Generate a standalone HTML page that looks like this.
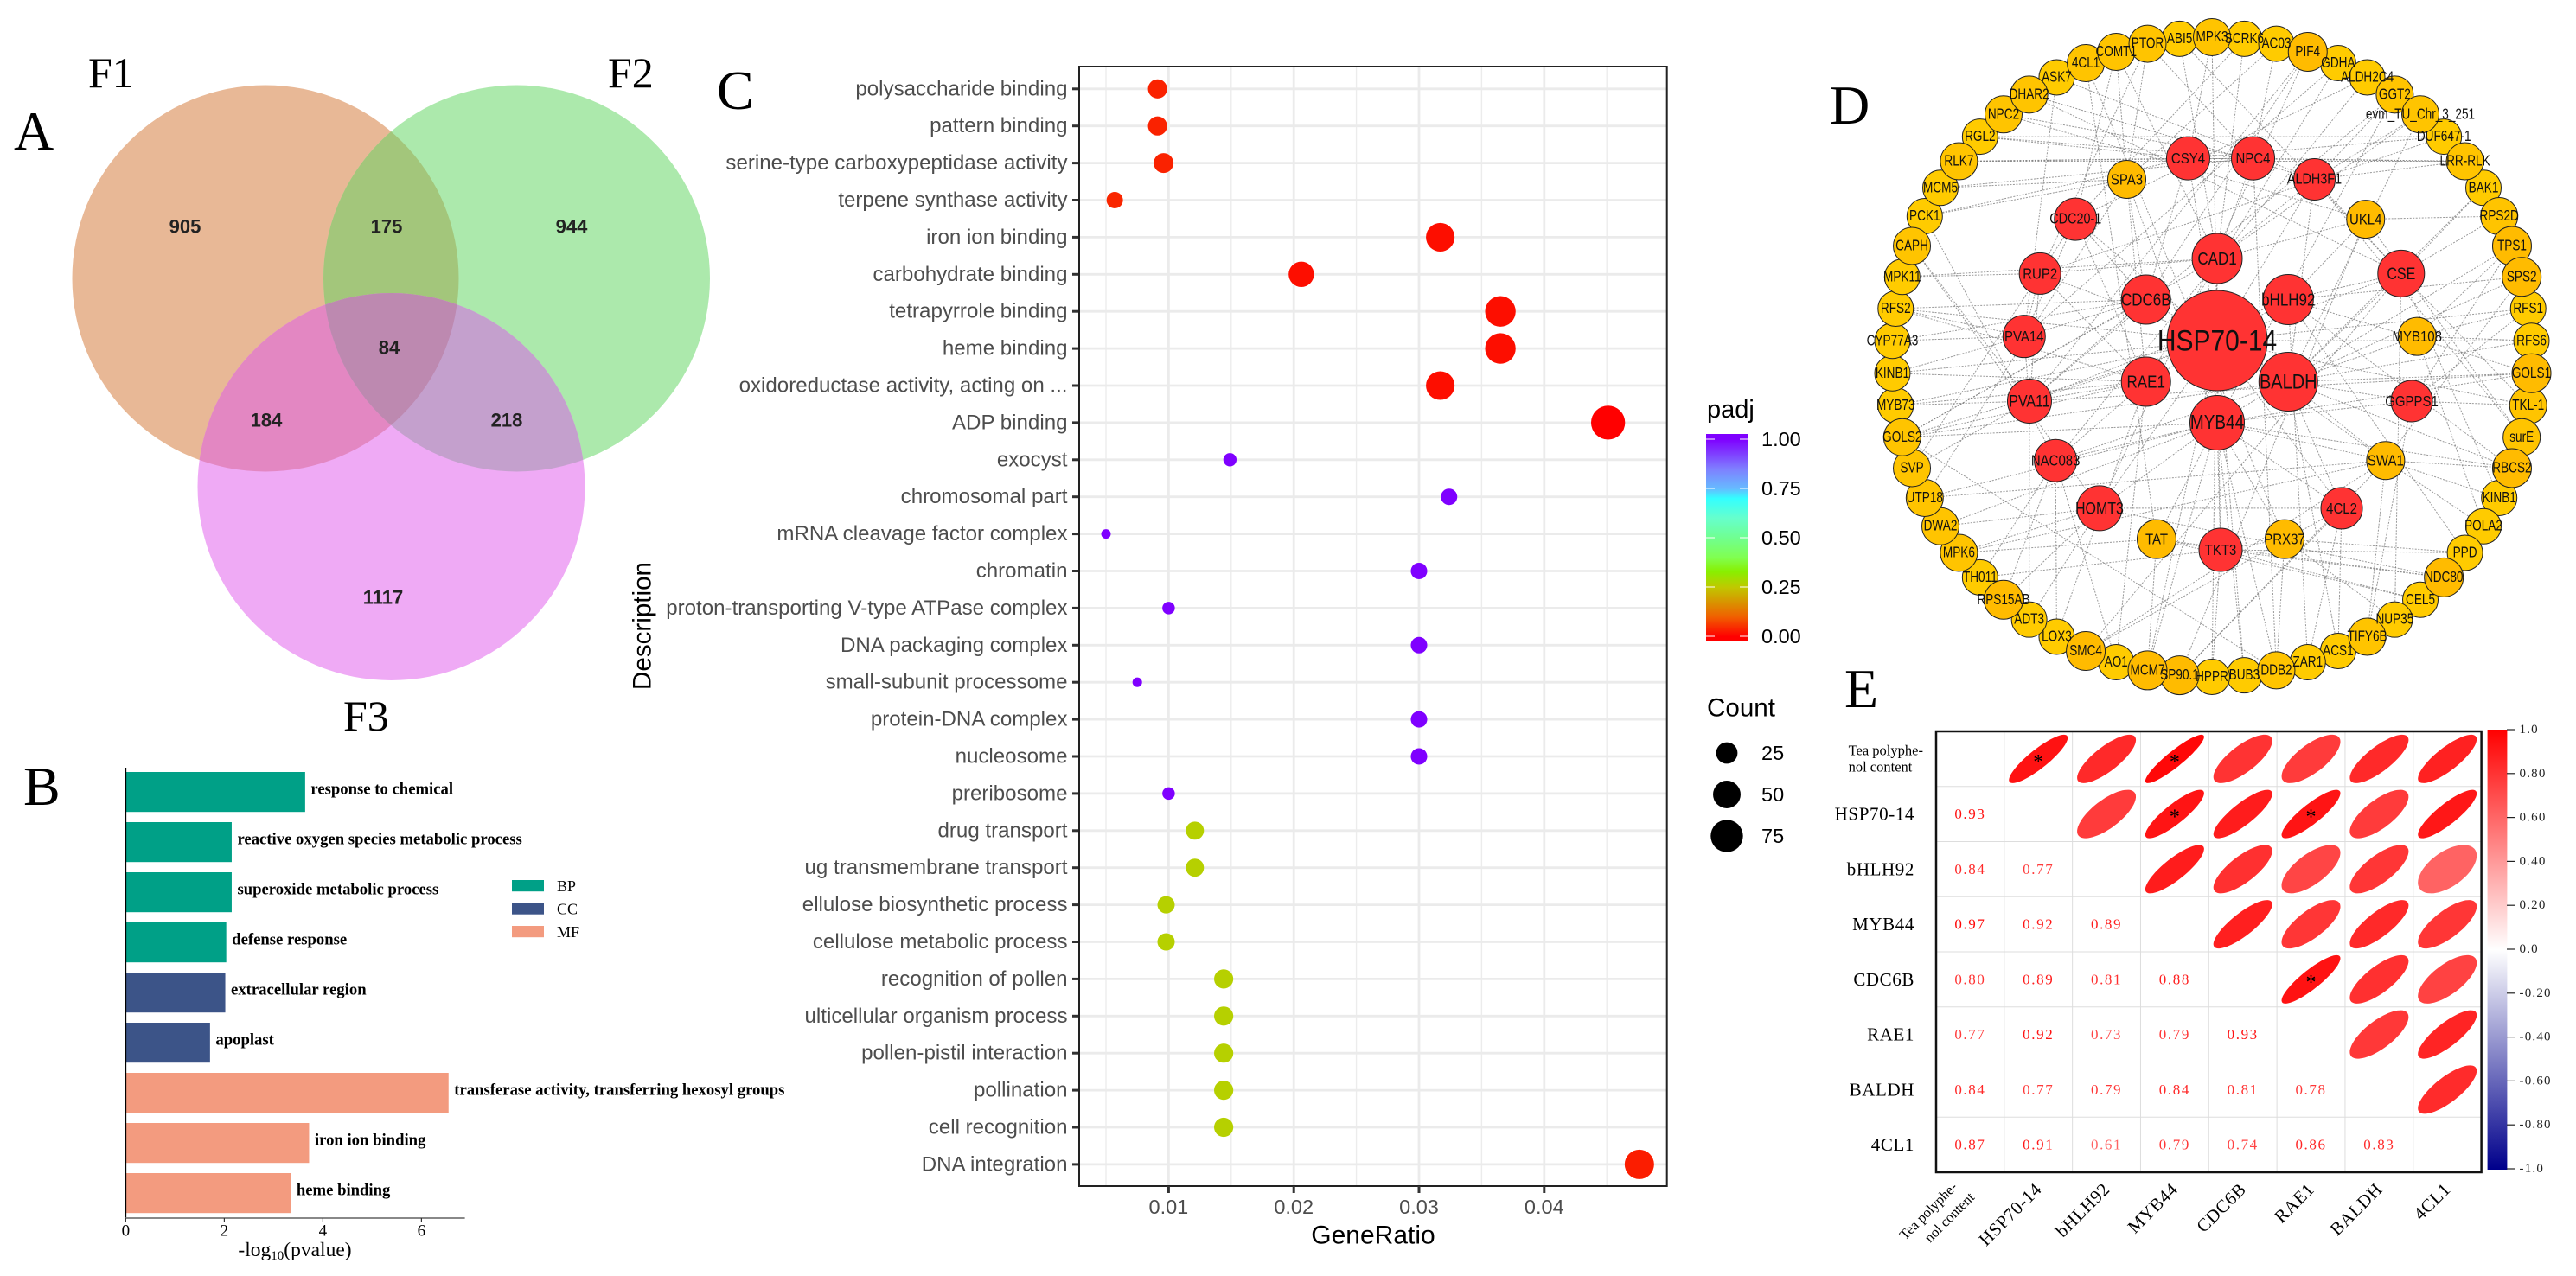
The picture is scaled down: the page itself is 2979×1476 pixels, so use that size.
<!DOCTYPE html>
<html lang="en">
<head>
<meta charset="utf-8">
<title>Multi-panel gene analysis figure</title>
<style>
html,body{margin:0;padding:0;background:#fff}
svg{display:block}
text{font-family:"Liberation Sans",sans-serif}
.serif{font-family:"Liberation Serif",serif}
.panel{font-family:"Liberation Serif",serif;font-size:64px;fill:#000}
</style>
</head>
<body>
<svg id="fig" xmlns="http://www.w3.org/2000/svg" width="2979" height="1476" viewBox="0 0 2979 1476">
<defs>
<clipPath id="clipF1"><circle cx="307" cy="322" r="223.5"/></clipPath>
<clipPath id="clipF2"><circle cx="597.5" cy="322" r="223.5"/></clipPath>
<clipPath id="clipF3"><circle cx="452.5" cy="563" r="224"/></clipPath>
</defs>
<rect width="2979" height="1476" fill="#fff"/>

<g id="venn">
<circle cx="307" cy="322" r="223.5" fill="#e8b896"/>
<circle cx="597.5" cy="322" r="223.5" fill="#ace9ac"/>
<g clip-path="url(#clipF1)"><circle cx="597.5" cy="322" r="223.5" fill="#a3c67b"/></g>
<circle cx="452.5" cy="563" r="224" fill="#efaaf5"/>
<g clip-path="url(#clipF3)">
<circle cx="307" cy="322" r="223.5" fill="#e387c2"/>
<circle cx="597.5" cy="322" r="223.5" fill="#c4a0cd"/>
<g clip-path="url(#clipF1)"><circle cx="597.5" cy="322" r="223.5" fill="#bd89b0"/></g>
</g>
<g font-weight="bold" font-size="22" fill="#222" text-anchor="middle" dominant-baseline="central">
<text x="214" y="262">905</text>
<text x="447" y="262">175</text>
<text x="661" y="262">944</text>
<text x="450" y="402">84</text>
<text x="308" y="486">184</text>
<text x="586" y="486">218</text>
<text x="443" y="691">1117</text>
</g>
<text class="serif" x="102" y="101" font-size="50">F1</text>
<text class="serif" x="703" y="101" font-size="50">F2</text>
<text class="serif" x="397" y="845" font-size="50">F3</text>
</g>

<text class="panel" x="16" y="173">A</text>
<text class="panel" x="27" y="931">B</text>
<text class="panel" x="829" y="126">C</text>
<text class="panel" x="2116" y="143">D</text>
<text class="panel" x="2133" y="818">E</text>

<g id="barChart"></g>
<g id="dotChart"></g>
<g id="network"></g>
<g id="corr"></g>
</svg>

<script>
/* ---------- Panel B data ---------- */
const barCategories = ["response to chemical","reactive oxygen species metabolic process","superoxide metabolic process","defense response","extracellular region","apoplast","transferase activity, transferring hexosyl groups","iron ion binding","heme binding"];
const barValues = [3.64,2.15,2.15,2.04,2.02,1.71,6.55,3.72,3.35];
const barGroups = ["BP","BP","BP","BP","CC","CC","MF","MF","MF"];
const barTicks = [0,2,4,6];
const barLegend = ["BP","CC","MF"];

/* ---------- Panel C data ---------- */
const dotCategories = ["polysaccharide binding","pattern binding","serine-type carboxypeptidase activity","terpene synthase activity","iron ion binding","carbohydrate binding","tetrapyrrole binding","heme binding","oxidoreductase activity, acting on ...","ADP binding","exocyst","chromosomal part","mRNA cleavage factor complex","chromatin","proton-transporting V-type ATPase complex","DNA packaging complex","small-subunit processome","protein-DNA complex","nucleosome","preribosome","drug transport","ug transmembrane transport","ellulose biosynthetic process","cellulose metabolic process","recognition of pollen","ulticellular organism process","pollen-pistil interaction","pollination","cell recognition","DNA integration"];
const dotRatio = [.00912,.00912,.0096,.0057,.0317,.0206,.0365,.0365,.0317,.0451,.0149,.0324,.005,.03,.01,.03,.0075,.03,.03,.01,.0121,.0121,.0098,.0098,.0144,.0144,.0144,.0144,.0144,.0476];
const dotCount = [18,18,20,11,55,40,65,65,55,85,5,11,1,11,4,11,1,11,11,4,15,15,13,13,18,18,18,18,18,59];
const dotPadj = [.035,.035,.035,.04,.015,.015,.015,.015,.015,.0,1,1,1,1,1,1,1,1,1,1,.265,.265,.265,.265,.265,.265,.265,.265,.265,.03];
const dotXTicks = [.01,.02,.03,.04];
const dotXMinor = [.005,.015,.025,.035,.045];
const padjTicks = [1,.75,.5,.25,0];
const countLegend = [25,50,75];
const padjStops = [0,.1,.25,.33,.4,.5,.6,.7,.75,.85,1];
const padjColors = ["#ff0000","#f06000","#c0c800","#88f000","#80ff50","#70ff90","#66ffcc","#33ffff","#66bbff","#7f7fff","#7f00ff"];

/* ---------- Panel D data ---------- */
const outerNames = ["MPK3","SCRK6","AC03","PIF4","GDHA","ALDH2C4","GGT2","evm_TU_Chr_3_251","DUF647-1","LRR-RLK","BAK1","RPS2D","TPS1","SPS2","RFS1","RFS6","GOLS1","TKL-1","surE","RBCS2","KINB1","POLA2","PPD","NDC80","CEL5","NUP35","TIFY6B","ACS1","ZAR1","DDB2","BUB3","HPPR","SP90.1","MCM7","AO1","SMC4","LOX3","ADT3","RPS15AB","TH011","MPK6","DWA2","UTP18","SVP","GOLS2","MYB73","KINB1","CYP77A3","RFS2","MPK11","CAPH","PCK1","MCM5","RLK7","RGL2","NPC2","DHAR2","ASK7","4CL1","COMT1","PTOR","ABI5"];
const outerDegree = [3,2,2,4,2,2,3,3,2,3,2,3,4,4,2,2,4,3,3,4,2,2,2,4,2,2,3,2,2,3,2,2,4,4,2,4,2,2,4,2,3,3,3,3,3,2,2,2,2,2,3,2,2,3,2,3,3,2,3,3,3,2];
const midNames = ["NPC4","ALDH3F1","UKL4","CSE","MYB108","GGPPS1","SWA1","4CL2","PRX37","TKT3","TAT","HOMT3","NAC083","PVA11","PVA14","RUP2","CDC20-1","SPA3","CSY4"];
const midDegree = [25,24,22,27,22,24,22,24,22.5,25,22.5,26,24.5,25.5,24.5,24,24.5,22,25];
const midGroup = ["hub","hub","leaf","hub","leaf","hub","leaf","hub","leaf","hub","leaf","hub","hub","hub","hub","hub","hub","leaf","hub"];
const hubNames = ["CAD1","bHLH92","BALDH","MYB44","RAE1","CDC6B"];
const hubDegree = [29,29,34,31.5,28.5,28.5];
const centerName = "HSP70-14";
const centerDegree = 58;
/* neighbours of each outer node: ids 0-18 middle ring, 19-24 hub ring, 25 centre */
const outerLinks = [[18,25],[19,16],[17,0],[11,13,24],[14,23],[16,12],[13,1,22],[1,19,21],[15,18],[18,0,1],[3,21],[2,3],[5,22,4],[21,20,6],[25,4,5],[4,21,25],[21,22,20,13],[5,25,3],[1,2],[6,21,20,22],[6,3],[6,4],[8,9,20],[9,11,10],[10,9],[8,3],[6,5],[7,21],[7,20],[8,22,0],[25,22],[9,19],[7,6,2],[10,25,22],[23,12],[7,6,3],[23,12],[11,13],[12,11],[12,9],[11,6,10],[22,11],[22,6,17],[13,15],[21,23,22,25,19,24],[13,23,25],[23,25,14],[14,24],[14,24,25,23],[15,19],[13,11],[17,18,12],[17,0],[18,0],[18,0],[0,2],[3,1],[1,14],[8,10],[17,19,16],[15,17,0],[3,19]];
const innerLinks = [[25,19],[25,20],[25,21],[25,22],[25,23],[25,24],[25,3],[25,6],[25,9],[25,11],[25,13],[25,15],[25,16],[25,7],[25,1],[25,18],[16,15],[16,14],[15,14],[15,13],[14,13],[13,23],[13,24],[14,24],[12,22],[12,23],[11,22],[11,7],[10,9],[9,8],[7,22],[7,21],[6,21],[6,22],[3,21],[3,1],[3,20],[1,19],[1,21],[0,19],[18,24],[17,24],[17,22],[17,23],[16,23],[16,24],[15,23],[2,19],[2,20],[4,21],[5,21],[5,22],[8,22],[9,22],[10,22],[12,21],[19,15],[20,13]];
const outerPairs = [[53,9],[54,8],[40,35],[44,29]];

/* ---------- Panel E data ---------- */
const corrLabels = ["Tea polyphe-|nol content","HSP70-14","bHLH92","MYB44","CDC6B","RAE1","BALDH","4CL1"];
const corrLower = [[],[.93],[.84,.77],[.97,.92,.89],[.80,.89,.81,.88],[.77,.92,.73,.79,.93],[.84,.77,.79,.84,.81,.78],[.87,.91,.61,.79,.74,.86,.83]];
const corrBarTicks = [1,.8,.6,.4,.2,0,-.2,-.4,-.6,-.8,-1];
const corrBarLabels = ["1.0","0.80","0.60","0.40","0.20","0.0","-0.20","-0.40","-0.60","-0.80","-1.0"];

const NS = "http://www.w3.org/2000/svg";
function mk(parent, tag, attrs, text){
  const e = document.createElementNS(NS, tag);
  for (const k in attrs) e.setAttribute(k, attrs[k]);
  if (text !== undefined) e.textContent = text;
  parent.appendChild(e);
  return e;
}
function slug(s){ return String(s).toLowerCase().replace(/[^a-z0-9]+/g,'-').replace(/^-|-$/g,''); }

/* ================= Panel B ================= */
(function(){
  const g = document.getElementById('barChart');
  const x = v => 145.4 + 57 * v;
  const y = i => 893 + 58 * i;
  const barH = 46.2;
  const groupColor = {BP:"#00a087",CC:"#3c5488",MF:"#f39b7f"};
  barValues.forEach((v,i)=>{
    const r = mk(g,'rect',{x:x(0),y:y(i),width:x(v)-x(0),height:barH,fill:groupColor[barGroups[i]]});
    
    
    const t = mk(g,'text',{x:x(v)+6.5,y:y(i)+barH/2-3,'font-size':18.7,'font-weight':'bold','dominant-baseline':'central','class':'serif'},barCategories[i]);
    
    
  });
  const ya = mk(g,'line',{x1:x(0),x2:x(0),y1:888,y2:1409,stroke:'#000','stroke-width':1.5});
  
  
  const xa = mk(g,'line',{x1:x(0),x2:537.6,y1:1409,y2:1409,stroke:'#888','stroke-width':2});
  
  
  barTicks.forEach(v=>{
    const l = mk(g,'line',{x1:x(v),x2:x(v),y1:1409,y2:1414,stroke:'#333','stroke-width':1.2});
    
    
    const t = mk(g,'text',{x:x(v),y:1424,'font-size':19,'text-anchor':'middle','dominant-baseline':'central','class':'serif'},v);
    
    
  });
  const xl = mk(g,'text',{x:341,y:1453,'font-size':23.5,'text-anchor':'middle','class':'serif'});
  
  
  mk(xl,'tspan',{},'-log');
  mk(xl,'tspan',{'font-size':15,dy:4},'10');
  mk(xl,'tspan',{dy:-4},'(pvalue)');
  barLegend.forEach((name,i)=>{
    const r = mk(g,'rect',{x:592,y:1018+26.5*i,width:37,height:13.2,fill:groupColor[name]});
    
    
    const t = mk(g,'text',{x:644,y:1025+26.5*i,'font-size':18,'dominant-baseline':'central','class':'serif'},name);
    
    
  });
})();

/* ================= Panel C ================= */
function hexToRgb(h){ return [1,3,5].map(i=>parseInt(h.substr(i,2),16)); }
function padjColor(v){
  for (let i=1;i<padjStops.length;i++){
    if (v<=padjStops[i]){
      const t=(v-padjStops[i-1])/(padjStops[i]-padjStops[i-1]);
      const a=hexToRgb(padjColors[i-1]), b=hexToRgb(padjColors[i]);
      return 'rgb('+a.map((c,k)=>Math.round(c+(b[k]-c)*t)).join(',')+')';
    }
  }
  return padjColors[padjColors.length-1];
}
(function(){
  const g = document.getElementById('dotChart');
  const L=1248,R=1927.7,T=77,B=1372;
  const x = v => 1351.4 + (v-.01)*14480;
  const y = i => 102.8 + i*42.9;
  const size = c => 3.8 + 1.72*Math.sqrt(c);
  dotXMinor.forEach(v=>{
    const l = mk(g,'line',{x1:x(v),x2:x(v),y1:T,y2:B,stroke:'#ececec','stroke-width':1.4});
    
    
  });
  dotXTicks.forEach(v=>{
    const l = mk(g,'line',{x1:x(v),x2:x(v),y1:T,y2:B,stroke:'#ebebeb','stroke-width':2.8});
    
    
  });
  dotCategories.forEach((name,i)=>{
    const l = mk(g,'line',{x1:L,x2:R,y1:y(i),y2:y(i),stroke:'#ebebeb','stroke-width':2.8});
    
    
    const tk = mk(g,'line',{x1:L-8,x2:L,y1:y(i),y2:y(i),stroke:'#333','stroke-width':3});
    
    
    const t = mk(g,'text',{x:1234.5,y:y(i),'font-size':24.1,fill:'#4d4d4d','text-anchor':'end','dominant-baseline':'central'},name);
    
    
  });
  dotRatio.forEach((v,i)=>{
    const c = mk(g,'circle',{cx:x(v),cy:y(i),r:size(dotCount[i]),fill:padjColor(dotPadj[i])});
    
    
  });
  const fr = mk(g,'rect',{x:L,y:T,width:R-L,height:B-T,fill:'none',stroke:'#222','stroke-width':2});
  
  
  dotXTicks.forEach(v=>{
    const tk = mk(g,'line',{x1:x(v),x2:x(v),y1:B,y2:B+8,stroke:'#333','stroke-width':3});
    
    
    const t = mk(g,'text',{x:x(v),y:1396,'font-size':23.5,fill:'#4d4d4d','text-anchor':'middle','dominant-baseline':'central'},v.toFixed(2));
    
    
  });
  const xt = mk(g,'text',{x:1588,y:1429,'font-size':30,'text-anchor':'middle','dominant-baseline':'central'},'GeneRatio');
  
  
  const yt = mk(g,'text',{transform:'translate(743,724) rotate(-90)','font-size':29.6,'text-anchor':'middle','dominant-baseline':'central'},'Description');
  
  

  /* padj colour bar */
  const defs = document.querySelector('#fig defs');
  const grad = mk(defs,'linearGradient',{id:'padjGrad',x1:0,y1:1,x2:0,y2:0});
  padjStops.forEach((s,i)=>{ mk(grad,'stop',{offset:(0.0235+s*0.9507),'stop-color':padjColors[i]}); });
  const LT = 502, LB = 742;
  const py = v => 736 - v*228;
  const pt = mk(g,'text',{x:1974,y:474,'font-size':29,'dominant-baseline':'central'},'padj');
  
  
  const bar = mk(g,'rect',{x:1973,y:LT,width:49,height:LB-LT,fill:'url(#padjGrad)'});
  
  
  padjTicks.forEach(v=>{
    [[1973,1983],[2012,2022]].forEach(p=>{
      const l = mk(g,'line',{x1:p[0],x2:p[1],y1:py(v),y2:py(v),stroke:'#fff','stroke-width':1});
      
      
    });
    const t = mk(g,'text',{x:2037,y:py(v),'font-size':23.5,'dominant-baseline':'central'},v.toFixed(2));
    
    
  });
  const ct = mk(g,'text',{x:1974,y:819,'font-size':29.6,'dominant-baseline':'central'},'Count');
  
  
  countLegend.forEach((c,i)=>{
    const cy = 871 + 48*i;
    const k = mk(g,'circle',{cx:1997,cy:cy,r:size(c)});
    
    
    const t = mk(g,'text',{x:2037,y:cy,'font-size':23.5,'dominant-baseline':'central'},c);
    
    
  });
})();

/* ================= Panel D ================= */
(function(){
  const g = document.getElementById('network');
  const nodes = [];
  const rad = Math.PI/180;
  const outerColor = {2:'#ffcb00',3:'#ffc400',4:'#ffbb00'};
  outerNames.forEach((name,i)=>{
    const a = i*360/outerNames.length*rad;
    nodes.push({name:name,x:2558+370*Math.sin(a),y:413-370*Math.cos(a),r:18.5+outerDegree[i],fill:outerColor[outerDegree[i]],fs:13.6,sy:1.28,order:outerDegree[i]});
  });
  midNames.forEach((name,i)=>{
    const a = (360/midNames.length/2 + i*360/midNames.length)*rad;
    const r = midDegree[i];
    const hub = midGroup[i]==='hub';
    nodes.push({name:name,x:2568+228*Math.sin(a),y:408-228*Math.cos(a),r:r,fill:hub?'#ff3333':'#ffbb00',fs:name.length>6?14.4:(r>25?16:15),sy:1.2,order:5});
  });
  hubNames.forEach((name,i)=>{
    const a = i*60*rad;
    const r = hubDegree[i];
    nodes.push({name:name,x:2564+95*Math.sin(a),y:394-95*Math.cos(a),r:r,fill:'#ff3333',fs:r>33?20:(r>30?19:17),sy:1.2,order:6});
  });
  nodes.push({name:centerName,x:2564,y:394,r:centerDegree,fill:'#ff3333',fs:30,sy:1.15,order:5.5});
  const OFF = outerNames.length;
  function edge(a,b){
    const l = mk(g,'line',{x1:nodes[a].x,y1:nodes[a].y,x2:nodes[b].x,y2:nodes[b].y,stroke:'#777','stroke-width':1,'stroke-dasharray':'2 1.5','stroke-opacity':.75});
    
    
  }
  outerLinks.forEach((list,i)=>list.forEach(t=>edge(i,OFF+t)));
  innerLinks.forEach(p=>edge(OFF+p[0],OFF+p[1]));
  outerPairs.forEach(p=>edge(p[0],p[1]));
  nodes.slice().sort((a,b)=>a.order-b.order).forEach(n=>{
    const c = mk(g,'circle',{cx:n.x,cy:n.y,r:n.r,fill:n.fill,stroke:'#222','stroke-width':1});
    
    
  });
  nodes.forEach(n=>{
    const t = mk(g,'text',{transform:'translate('+n.x+','+n.y+') scale(1,'+n.sy+')','font-size':n.fs,'text-anchor':'middle','dominant-baseline':'central',fill:'#111'},n.name);
    
    
  });
})();

/* ================= Panel E ================= */
(function(){
  const g = document.getElementById('corr');
  const L=2239,T=846,W=630.6,H=510;
  const n = corrLabels.length, cw=W/n, ch=H/n;
  const cx = i => L+cw*(i+.5);
  const cy = i => T+ch*(i+.5);
  const colorOf = r => { const v=Math.round(255*(1-r)); return 'rgb(255,'+v+','+v+')'; };
  for (let i=1;i<n;i++){
    const a = mk(g,'line',{x1:L+cw*i,x2:L+cw*i,y1:T,y2:T+H,stroke:'#ddd','stroke-width':1});
    
    
    const b = mk(g,'line',{x1:L,x2:L+W,y1:T+ch*i,y2:T+ch*i,stroke:'#ddd','stroke-width':1});
    
    
  }
  corrLower.forEach((row,i)=>row.forEach((r,j)=>{
    const t = mk(g,'text',{x:cx(j),y:cy(i),'font-size':17,'letter-spacing':1.6,fill:colorOf(r),'text-anchor':'middle','dominant-baseline':'central','class':'serif'},r.toFixed(2));
    
    
    const base = Math.acos(r), d = Math.sqrt(base*base + .1225), pts=[];
    for (let k=0;k<72;k++){
      const a = k/72*2*Math.PI;
      pts.push((cx(i)+34*Math.cos(a+d/2)).toFixed(1)+','+(cy(j)-28*Math.cos(a-d/2)).toFixed(1));
    }
    const e = mk(g,'polygon',{points:pts.join(' '),fill:colorOf(r)});
    
    
    if (r>=.92){
      const s = mk(g,'text',{x:cx(i),y:cy(j)+4,'font-size':24,'text-anchor':'middle','dominant-baseline':'central','class':'serif'},'*');
      
      
    }
  }));
  const fr = mk(g,'rect',{x:L,y:T,width:W,height:H,fill:'none',stroke:'#111','stroke-width':2.5});
  
  
  corrLabels.forEach((name,i)=>{
    const parts = name.split('|');
    if (parts.length===1){
      const t = mk(g,'text',{x:2214,y:cy(i),'font-size':21,'letter-spacing':.6,'text-anchor':'end','dominant-baseline':'central','class':'serif'},name);
      
      
      const u = mk(g,'text',{transform:'translate('+cx(i)+',1372) rotate(-45)','font-size':21,'letter-spacing':.6,'text-anchor':'end','dominant-baseline':'central','class':'serif'},name);
      
      
    } else {
      parts.forEach((p,k)=>{
        const t = mk(g,'text',{x:2137.6,y:cy(i)-10+k*19,'font-size':16.5,'dominant-baseline':'central','class':'serif'},p);
        
        
        const u = mk(g,'text',{transform:'translate('+(cx(i)-18+k*20)+','+(1370+k*12)+') rotate(-45)','font-size':16.5,'text-anchor':'end','dominant-baseline':'central','class':'serif'},p);
        
        
      });
    }
  });
  const defs = document.querySelector('#fig defs');
  const grad = mk(defs,'linearGradient',{id:'corrGrad',x1:0,y1:0,x2:0,y2:1});
  mk(grad,'stop',{offset:0,'stop-color':'#ff0000'});
  mk(grad,'stop',{offset:.5,'stop-color':'#ffffff'});
  mk(grad,'stop',{offset:1,'stop-color':'#00008b'});
  const bar = mk(g,'rect',{x:2876.6,y:844,width:22.8,height:509,fill:'url(#corrGrad)'});
  
  
  corrBarTicks.forEach((v,i)=>{
    const y = 844 + (1-v)/2*508;
    const l = mk(g,'line',{x1:2899,x2:2908.6,y1:y,y2:y,stroke:'#222','stroke-width':1.2});
    
    
    const t = mk(g,'text',{x:2913.5,y:y,'font-size':15,'letter-spacing':1.2,fill:'#222','dominant-baseline':'central','class':'serif'},corrBarLabels[i]);
    
    
  });
})();
</script>
</body>
</html>
